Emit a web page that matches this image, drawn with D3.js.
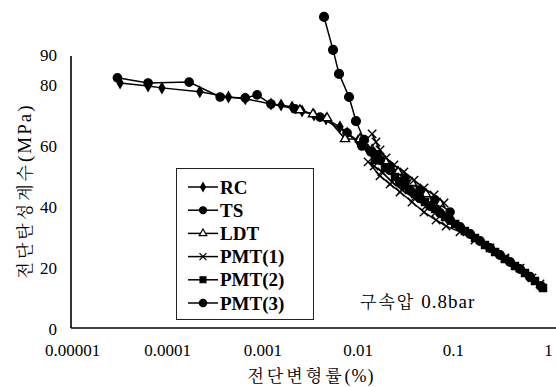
<!DOCTYPE html>
<html>
<head>
<meta charset="utf-8">
<script src="https://cdn.jsdelivr.net/npm/d3@7"></script>
<style>
  html, body { margin: 0; padding: 0; background: #fff; }
  svg { display: block; }
</style>
</head>
<body>
<svg id="chart" width="556" height="387"></svg>
<script>
// Shear strain (%) and shear modulus (MPa) for each test method
const rcStrain = [0.000032, 0.000063, 0.000088, 0.00022, 0.00044, 0.00066, 0.00123, 0.00157, 0.00205, 0.00261, 0.00348, 0.00466, 0.00653, 0.00775, 0.0101, 0.0129, 0.0164, 0.0208];
const rcG      = [80.8, 79.8, 79.2, 77.9, 76.2, 75.6, 73.9, 73.6, 72.9, 71.6, 70.3, 69.0, 66.4, 64.4, 61.8, 58.8, 56.2, 53.5];

const tsStrain = [0.00003, 0.000063, 0.00017, 0.00036, 0.00066, 0.00088, 0.00123, 0.0022, 0.00403, 0.00775, 0.0111, 0.016, 0.0219, 0.0315, 0.0452, 0.0651, 0.0936];
const tsG      = [82.5, 80.8, 81.1, 76.2, 75.9, 76.9, 73.9, 72.3, 69.6, 64.4, 60.1, 57.2, 53.5, 49.6, 45.7, 42.4, 38.4];

const ldtStrain = [0.00248, 0.0034, 0.00478, 0.00738, 0.0106, 0.0142, 0.0194, 0.0266, 0.0373, 0.0523, 0.0735];
const ldtG      = [71.9, 70.6, 69.3, 62.4, 62.4, 58.8, 55.2, 51.6, 48.0, 44.3, 41.1];

const pmt1Strain = [0.0142, 0.0156, 0.0172, 0.0199, 0.0241, 0.0307, 0.0391, 0.0498, 0.0635, 0.0809, 0.0667, 0.0523, 0.0391, 0.0293, 0.023, 0.018, 0.0149, 0.0129, 0.0172, 0.0219, 0.0279, 0.0373, 0.0498, 0.0667, 0.085, 0.119, 0.171, 0.246, 0.353, 0.508, 0.679, 0.824];
const pmt1G      = [64.1, 61.4, 58.8, 56.2, 53.9, 51.6, 48.9, 46.3, 44.0, 41.4, 38.4, 40.4, 43.0, 45.7, 48.3, 51.6, 53.5, 54.9, 50.3, 47.6, 45.0, 41.7, 38.4, 35.8, 33.8, 31.9, 29.2, 26.6, 23.3, 20.0, 16.8, 14.8];

const pmt2Strain = [0.0152, 0.0194, 0.0247, 0.0315, 0.0401, 0.051, 0.0651, 0.0829, 0.106, 0.134, 0.171, 0.218, 0.278, 0.353, 0.45, 0.573, 0.73, 0.886];
const pmt2G      = [55.5, 52.9, 49.9, 47.0, 44.3, 41.7, 39.4, 36.8, 34.5, 32.2, 29.9, 27.6, 25.3, 23.0, 20.7, 18.4, 15.8, 13.5];

const pmt3Strain = [0.00444, 0.00552, 0.00638, 0.00813, 0.00961, 0.0117, 0.0142, 0.0172, 0.0219, 0.0279, 0.0355, 0.0452, 0.0576, 0.0735, 0.0936, 0.119, 0.152, 0.193, 0.246, 0.313, 0.399, 0.508, 0.647, 0.844];
const pmt3G      = [102.5, 91.7, 83.8, 76.2, 68.3, 62.1, 58.1, 55.5, 52.2, 48.3, 45.7, 43.0, 40.4, 38.1, 35.8, 33.5, 31.2, 28.9, 26.6, 24.3, 22.0, 19.7, 17.1, 14.1];

const seriesNames = ["RC", "TS", "LDT", "PMT(1)", "PMT(2)", "PMT(3)"];

const xTicks = [0.00001, 0.0001, 0.001, 0.01, 0.1, 1];
const xTickLabels = ["0.00001", "0.0001", "0.001", "0.01", "0.1", "1"];
const yTicks = [0, 20, 40, 60, 80, 90];

const xTitleKo = "전단변형률";
const xTitleUnit = "(%)";
const yTitleKo = "전단탄성계수";
const yTitleUnit = "(MPa)";
const noteKo = "구속압";
const noteValue = "0.8bar";

// ---- drawing ----
const svg = d3.select("#chart");
const SERIF = "Liberation Serif";
const KO = "Noto Serif CJK KR";

const x = d3.scaleLog().domain([1e-5, 1]).range([72, 548]);
const y = d3.scaleLinear().domain([0, 90]).range([329, 55]);

const axisX0 = 71, axisY0 = 328;

// axis lines
svg.append("line").attr("x1", axisX0).attr("x2", 556).attr("y1", axisY0).attr("y2", axisY0)
  .attr("stroke", "#000").attr("stroke-width", 1.6);
svg.append("line").attr("x1", axisX0).attr("x2", axisX0).attr("y1", 56).attr("y2", axisY0)
  .attr("stroke", "#000").attr("stroke-width", 1.6);

// tick labels
const gx = svg.append("g").attr("transform", `translate(0,${axisY0})`)
  .call(d3.axisBottom(x).tickValues(xTicks).tickFormat((d, i) => xTickLabels[i]).tickSize(0).tickPadding(16));
gx.select(".domain").remove();
gx.attr("font-family", SERIF).attr("font-size", 17);
gx.selectAll("text").style("font-family", SERIF).style("font-size", "17px").attr("fill", "#000");

const gy = svg.append("g").attr("transform", `translate(${axisX0},0)`)
  .call(d3.axisLeft(y).tickValues(yTicks).tickSize(0).tickPadding(14));
gy.select(".domain").remove();
gy.attr("font-family", SERIF).attr("font-size", 17);
gy.selectAll("text").style("font-family", SERIF).style("font-size", "17px").attr("fill", "#000");

// axis titles
const xt = svg.append("text").attr("x", 311).attr("y", 382).attr("text-anchor", "middle").attr("fill", "#000");
xt.append("tspan").style("font-family", KO).style("font-size", "17px").style("letter-spacing", "3px").text(xTitleKo);
xt.append("tspan").style("font-family", SERIF).style("font-size", "18px").style("letter-spacing", "1px").text(xTitleUnit);

const yt = svg.append("text").attr("transform", "translate(31,191) rotate(-90)")
  .attr("text-anchor", "middle").attr("fill", "#000");
yt.append("tspan").style("font-family", KO).style("font-size", "17px").style("letter-spacing", "3px").text(yTitleKo);
yt.append("tspan").style("font-family", SERIF).style("font-size", "19px").style("letter-spacing", "2px").text(yTitleUnit);

// confining pressure note
const nt = svg.append("text").attr("x", 360).attr("y", 308).attr("fill", "#000");
nt.append("tspan").style("font-family", KO).style("font-size", "17px").style("letter-spacing", "2px").text(noteKo);
nt.append("tspan").attr("dx", 6).style("font-family", SERIF).style("font-size", "19px").style("letter-spacing", "1px").text(noteValue);

// series markers
const markerOf = {
  "RC":     { type: d3.symbolDiamond,  size: 30, fill: "#000", stroke: "#000" },
  "TS":     { type: d3.symbolCircle,   size: 54, fill: "#000", stroke: "#000" },
  "LDT":    { type: d3.symbolTriangle, size: 36, fill: "#fff", stroke: "#000" },
  "PMT(1)": { type: d3.symbolTimes,    size: 48, fill: "none", stroke: "#000" },
  "PMT(2)": { type: d3.symbolSquare,   size: 50, fill: "#000", stroke: "#000" },
  "PMT(3)": { type: d3.symbolCircle,   size: 60, fill: "#000", stroke: "#000" }
};

const seriesData = [
  [rcStrain, rcG], [tsStrain, tsG], [ldtStrain, ldtG],
  [pmt1Strain, pmt1G], [pmt2Strain, pmt2G], [pmt3Strain, pmt3G]
].map(([s, g], i) => ({ name: seriesNames[i], pts: s.map((v, j) => [v, g[j]]) }));

const line = d3.line().x(d => x(d[0])).y(d => y(d[1]));

const plot = svg.append("g");
seriesData.forEach(sr => {
  plot.append("path").datum(sr.pts).attr("d", line)
    .attr("fill", "none").attr("stroke", "#000").attr("stroke-width", 1.5);
});
seriesData.forEach(sr => {
  const m = markerOf[sr.name];
  plot.append("g").selectAll("path").data(sr.pts).join("path")
    .attr("transform", d => `translate(${x(d[0])},${y(d[1])})`)
    .attr("d", d3.symbol().type(m.type).size(m.size))
    .attr("fill", m.fill).attr("stroke", m.stroke).attr("stroke-width", 1.4);
});

// legend
const lg = svg.append("g");
lg.append("rect").attr("x", 176.5).attr("y", 168.5).attr("width", 137).attr("height", 151)
  .attr("fill", "#fff").attr("stroke", "#222").attr("stroke-width", 1);
seriesNames.forEach((name, i) => {
  const cy = 187 + i * 23.2;
  const m = markerOf[name];
  lg.append("line").attr("x1", 188).attr("x2", 218).attr("y1", cy).attr("y2", cy)
    .attr("stroke", "#000").attr("stroke-width", 1.5);
  lg.append("path").attr("transform", `translate(203,${cy})`)
    .attr("d", d3.symbol().type(m.type).size(m.size * 0.7))
    .attr("fill", m.fill).attr("stroke", m.stroke).attr("stroke-width", 1.2);
  lg.append("text").attr("x", 220).attr("y", cy + 6.5)
    .style("font-family", SERIF).style("font-weight", "bold").style("font-size", "19px")
    .attr("fill", "#000").text(name);
});
</script>
</body>
</html>
